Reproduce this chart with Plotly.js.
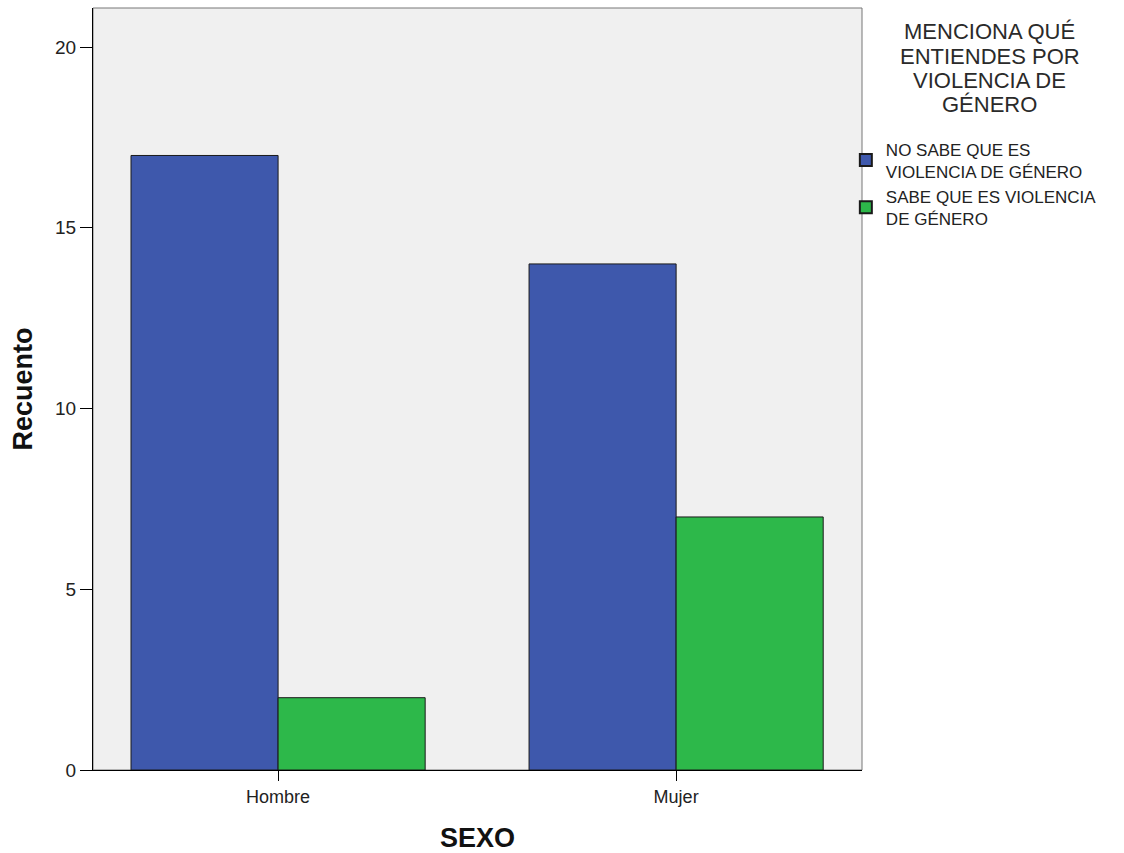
<!DOCTYPE html>
<html>
<head>
<meta charset="utf-8">
<script src="https://cdn.plot.ly/plotly-3.0.1.min.js"></script>
<style>html,body{margin:0;padding:0;background:#fff;}#chart{width:1124px;height:853px;}</style>
</head>
<body>
<div id="chart"></div>
<script>
const categories = ["Hombre", "Mujer"];
const seriesNames = ["NO SABE QUE ES<br>VIOLENCIA DE GÉNERO", "SABE QUE ES VIOLENCIA<br>DE GÉNERO"];
const noSabe = [17, 14];
const sabe = [2, 7];
const yTicks = [0, 5, 10, 15, 20];
const legendTitleLines = ["MENCIONA QUÉ", "ENTIENDES POR", "VIOLENCIA DE", "GÉNERO"];

const font = "Liberation Sans, Arial, sans-serif";
const traces = [
  {type: "bar", x: categories, y: noSabe, name: seriesNames[0],
   marker: {color: "#3e58ac", line: {color: "#1a1a1a", width: 1}}},
  {type: "bar", x: categories, y: sabe, name: seriesNames[1],
   marker: {color: "#2db84a", line: {color: "#1a1a1a", width: 1}}}
];
// legend title lines, centred above the legend
const titleY = [32, 56, 80, 104];
const annotations = legendTitleLines.map((t, i) => ({
  text: t, xref: "paper", yref: "paper", x: 1.166, y: 1 - (titleY[i] - 8) / 762,
  xanchor: "center", yanchor: "middle", showarrow: false,
  font: {family: font, size: 22, color: "#2a2a2a"}
}));
const layout = {
  width: 1124, height: 853,
  margin: {l: 93, r: 262, t: 8, b: 83},
  paper_bgcolor: "#ffffff", plot_bgcolor: "#f0f0f0",
  barmode: "group", bargap: 0.261, bargroupgap: 0,
  font: {family: font, size: 14, color: "#222"},
  showlegend: true,
  legend: {x: 0.979, xanchor: "left", y: 0.838, yanchor: "top",
    font: {family: font, size: 17, color: "#222"}, bgcolor: "rgba(0,0,0,0)",
    tracegroupgap: 0, itemsizing: "constant"},
  xaxis: {type: "category", range: [-0.465, 1.467], showgrid: false, zeroline: false,
    showline: true, linecolor: "#000", linewidth: 1,
    ticks: "outside", ticklen: 10, tickcolor: "#000", tickwidth: 1,
    tickfont: {family: font, size: 18, color: "#222"},
    title: {text: "<b>SEXO</b>", font: {family: font, size: 27, color: "#111"}, standoff: 22}},
  yaxis: {range: [0, 21.08], tickvals: yTicks, showgrid: false, zeroline: false,
    showline: true, linecolor: "#000", linewidth: 1,
    ticks: "outside", ticklen: 12, tickcolor: "#000", tickwidth: 1,
    tickfont: {family: font, size: 19, color: "#222"},
    title: {text: "<b>Recuento</b>", font: {family: font, size: 27, color: "#111"}, standoff: 14}},
  shapes: [{type: "rect", xref: "paper", yref: "paper", x0: 0, x1: 1, y0: 0, y1: 1,
    line: {color: "#777", width: 1}, fillcolor: "rgba(0,0,0,0)", layer: "below"}],
  annotations: annotations
};
Plotly.newPlot("chart", traces, layout, {staticPlot: true, displayModeBar: false});
</script>
</body>
</html>
